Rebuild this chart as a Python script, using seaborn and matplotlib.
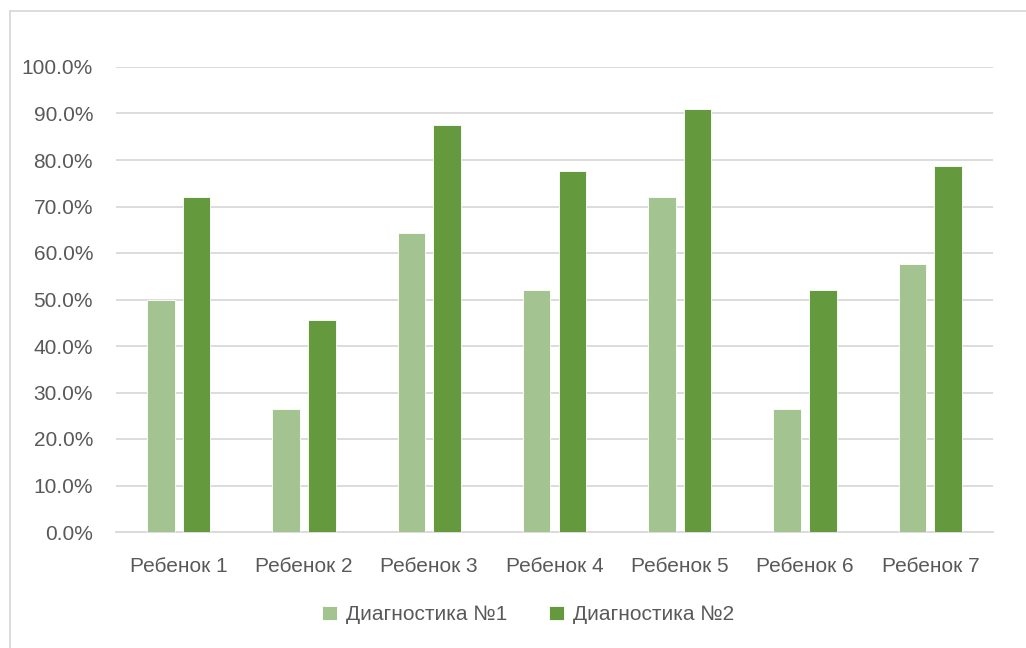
import pandas as pd
import matplotlib.pyplot as plt
import seaborn as sns
from matplotlib.patches import Rectangle
from matplotlib.ticker import PercentFormatter

children = ['Ребенок 1', 'Ребенок 2', 'Ребенок 3', 'Ребенок 4',
            'Ребенок 5', 'Ребенок 6', 'Ребенок 7']
diag1 = [49.8, 26.5, 64.4, 52.1, 72.1, 26.5, 57.6]
diag2 = [72.1, 45.5, 87.6, 77.7, 91.0, 52.1, 78.7]
series = ['Диагностика №1', 'Диагностика №2']
colors = ['#A3C490', '#64993D']

df = pd.DataFrame({'child': children * 2,
                   'value': diag1 + diag2,
                   'series': [series[0]] * 7 + [series[1]] * 7})

sns.set_theme(style='white')
plt.rcParams['font.family'] = ['Liberation Sans', 'DejaVu Sans']
text_col = '#595959'
fs = 15

fig = plt.figure(figsize=(10.26, 6.48), dpi=100)
ax = fig.add_axes([116 / 1026, 116 / 648, 877 / 1026, 465 / 648])

sns.barplot(data=df, x='child', y='value', hue='series', palette=colors,
            saturation=1, width=0.57, gap=0.225, ax=ax, errorbar=None,
            edgecolor='white', linewidth=0.6, zorder=3)

ax.set_ylim(0, 100)
ax.set_xlim(-0.5, 6.5)
ax.set_yticks(range(0, 101, 10))
ax.yaxis.set_major_formatter(PercentFormatter(decimals=1))
ax.grid(axis='y', color='#D9D9D9', linewidth=1.3, zorder=0)
ax.set_axisbelow(True)
for s in ['top', 'right', 'left']:
    ax.spines[s].set_visible(False)
ax.spines['bottom'].set_color('#D9D9D9')
ax.spines['bottom'].set_linewidth(1.3)
ax.set_xlabel('')
ax.set_ylabel('')
ax.tick_params(axis='y', length=0, pad=16.5, labelsize=fs, labelcolor=text_col)
ax.tick_params(axis='x', length=0, pad=18, labelsize=fs, labelcolor=text_col)

ax.legend(loc='upper center', bbox_to_anchor=(0.47, -0.117), ncol=2,
          frameon=False, fontsize=fs, labelcolor=text_col,
          handlelength=0.7, handleheight=0.7, handletextpad=0.45,
          columnspacing=2.0)

# light outer frame, cut by the right and bottom edges as in the original
fig.patches.append(Rectangle((10 / 1026, -0.05), 1.1, 0.05 + 637 / 648,
                             transform=fig.transFigure, fill=False,
                             edgecolor='#D9D9D9', linewidth=1.3))

fig.savefig('out.png', dpi=100)
